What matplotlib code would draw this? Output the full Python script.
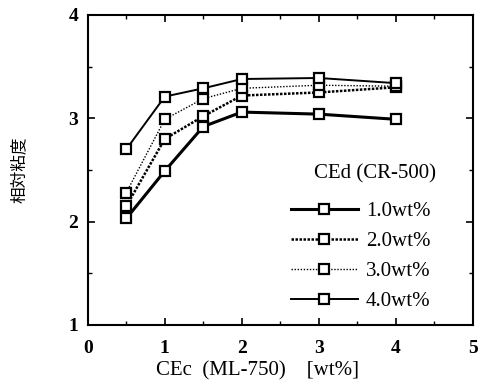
import numpy as np
import matplotlib
matplotlib.use('Agg')
import matplotlib.pyplot as plt
from matplotlib.ticker import MultipleLocator

plt.rcParams['font.family'] = ['Liberation Serif', 'Noto Sans CJK JP']

# CEc (ML-750) content [wt%]
cec = [0.5, 1.0, 1.5, 2.0, 3.0, 4.0]

# relative viscosity for each CEd (CR-500) content
visc_10 = [2.03, 2.49, 2.92, 3.06, 3.04, 2.99]
visc_20 = [2.15, 2.80, 3.02, 3.22, 3.25, 3.30]
visc_30 = [2.28, 2.99, 3.19, 3.29, 3.32, 3.31]
visc_40 = [2.70, 3.21, 3.29, 3.38, 3.39, 3.34]

labels = ['1.0wt%', '2.0wt%', '3.0wt%', '4.0wt%']

fig = plt.figure(figsize=(4.85, 3.84), dpi=100)
ax = fig.add_axes([0.181, 0.154, 0.794, 0.807])

styles = [
    dict(ls='-', lw=2.2),
    dict(ls=(0, (1, 0.6)), lw=1.8),
    dict(ls=(0, (1, 1.2)), lw=1.0),
    dict(ls='-', lw=1.4),
]
for vals, lab, st in zip([visc_10, visc_20, visc_30, visc_40], labels, styles):
    ax.plot(cec, vals, color='black', marker='s', markersize=7,
            markerfacecolor='white', markeredgecolor='black',
            markeredgewidth=1.6, label=lab, **st)

ax.set_xlim(0, 5)
ax.set_ylim(1, 4)
ax.xaxis.set_major_locator(MultipleLocator(1))
ax.xaxis.set_minor_locator(MultipleLocator(0.5))
ax.yaxis.set_major_locator(MultipleLocator(1))
ax.yaxis.set_minor_locator(MultipleLocator(0.5))
ax.tick_params(which='both', direction='in', top=True, right=True)
ax.tick_params(which='major', length=5, width=1.2, labelsize=14, pad=7)
ax.tick_params(axis='x', which='major', pad=11)
ax.tick_params(which='minor', length=3, width=1.0)
for lbl in ax.get_xticklabels() + ax.get_yticklabels():
    lbl.set_fontweight('bold')
for sp in ax.spines.values():
    sp.set_linewidth(1.5)

ax.set_xlabel('CEc  (ML-750)    [wt%]', fontsize=15, labelpad=3, x=0.44)
ax.set_ylabel('相対粘度', fontsize=12, labelpad=29, family=['Noto Sans CJK JP'])

ax.text(0.745, 0.488, 'CEd (CR-500)', transform=ax.transAxes,
        ha='center', va='center', fontsize=15)
leg = ax.legend(loc='upper left', bbox_to_anchor=(0.506, 0.425),
                frameon=False, fontsize=15, handlelength=3.2,
                handletextpad=0.4, labelspacing=0.5, borderaxespad=0)

fig.savefig('out.png', dpi=100)
